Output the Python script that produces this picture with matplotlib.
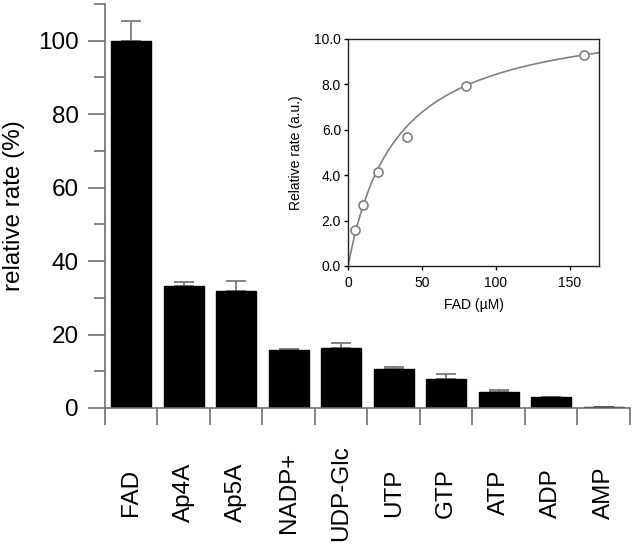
import numpy as np
import matplotlib.pyplot as plt
from matplotlib.ticker import MultipleLocator, FormatStrFormatter

plt.rcParams['font.family'] = ['Liberation Sans', 'DejaVu Sans']

# bar chart data
substrates = ['FAD', 'Ap4A', 'Ap5A', 'NADP+', 'UDP-Glc', 'UTP', 'GTP', 'ATP', 'ADP', 'AMP']
rates = [100.0, 33.3, 31.9, 15.7, 16.3, 10.6, 7.9, 4.4, 2.9, 0.2]
errors = [5.4, 1.1, 2.8, 0.4, 1.3, 0.5, 1.4, 0.4, 0.2, 0.05]

# inset data
fad_conc = [5, 10, 20, 40, 80, 160]
fad_rate = [1.6, 2.7, 4.15, 5.7, 7.95, 9.3]
# Michaelis-Menten fit parameters
vmax = 11.2
km = 32.7

grey = '#6e6e6e'

fig = plt.figure(figsize=(6.34, 5.45), dpi=100)
ax = fig.add_axes([0.1656, 0.2514, 0.828, 0.7413])

x = np.arange(len(substrates))
ax.bar(x, rates, width=0.76, color='black', edgecolor='black', zorder=2)
ax.errorbar(x, rates, yerr=[np.zeros(len(errors)), errors], fmt='none',
            ecolor=grey, elinewidth=1.2, capsize=7, capthick=1.2, zorder=1)

ax.set_xlim(-0.5, 9.5)
ax.set_ylim(0, 110)
for s in ['top', 'right']:
    ax.spines[s].set_visible(False)
for s in ['left', 'bottom']:
    ax.spines[s].set_color(grey)
    ax.spines[s].set_linewidth(1.2)

ax.yaxis.set_major_locator(MultipleLocator(20))
ax.yaxis.set_minor_locator(MultipleLocator(10))
ax.tick_params(axis='y', which='major', length=12, width=1.2, color=grey,
               labelsize=17.5, pad=7)
ax.tick_params(axis='y', which='minor', length=8, width=1.2, color=grey)

ax.set_xticks(np.arange(-0.5, 10, 1))
ax.set_xticklabels([])
ax.set_xticks(x, minor=True)
ax.set_xticklabels(substrates, minor=True, rotation=90, va='center', ha='center')
ax.tick_params(axis='x', which='major', length=12, width=1.2, color=grey)
ax.tick_params(axis='x', which='minor', length=0, labelsize=17.5, pad=61)

ax.set_ylabel('relative rate (%)', fontsize=17.5)
ax.yaxis.set_label_coords(-0.152, 0.5)

# inset
ins = fig.add_axes([0.549, 0.512, 0.396, 0.4165])
xs = np.linspace(0, 170, 300)
ins.plot(xs, vmax * xs / (km + xs), color='#808080', lw=1.2, zorder=1)
ins.plot(fad_conc, fad_rate, 'o', mfc='white', mec='#808080', mew=1.2, ms=6.5, zorder=2)
ins.set_xlim(0, 170)
ins.set_ylim(0, 10)
ins.set_xticks([0, 50, 100, 150])
ins.set_yticks(np.arange(0, 10.1, 2))
ins.yaxis.set_major_formatter(FormatStrFormatter('%.1f'))
ins.tick_params(axis='x', labelsize=10, length=3, width=1, pad=4)
ins.tick_params(axis='y', labelsize=10, length=3, width=1, pad=2)
for s in ins.spines.values():
    s.set_color('#222222')
    s.set_linewidth(1)
ins.set_xlabel('FAD (\u00b5M)', fontsize=10, labelpad=6)
ins.set_ylabel('Relative rate (a.u.)', fontsize=10, labelpad=8)

fig.savefig('out.png', dpi=100)
